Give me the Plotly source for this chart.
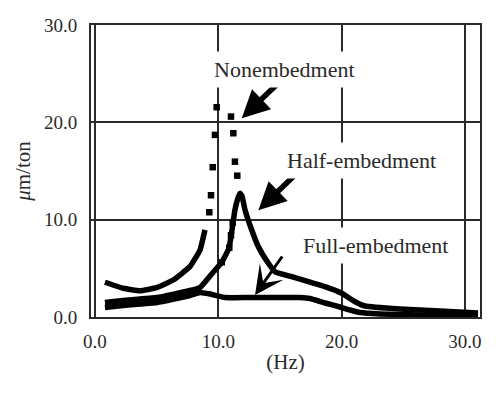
import plotly.graph_objects as go

# ---- data ----
# Nonembedment: continuous left branch + square-dot peak region
non_line_x = [0.81, 2.30, 3.65, 5.00, 6.35, 7.70, 8.52, 8.92]
non_line_y = [3.57, 2.95, 2.70, 3.01, 3.80, 5.17, 6.89, 8.94]
non_dots_x = [9.87, 11.03, 9.73, 11.22, 9.55, 11.35, 11.54, 9.41, 9.27, 11.17, 11.03, 10.89, 10.28]
non_dots_y = [21.55, 20.59, 18.71, 18.88, 15.39, 15.96, 14.52, 12.51, 10.76, 9.69, 8.40, 7.12, 5.62]

# Half-embedment
half_x = [0.81, 2.27, 5.03, 7.70, 8.52, 9.33, 10.28, 10.87, 11.11, 11.35, 11.60, 11.76,
          11.92, 12.17, 12.71, 13.25, 14.06, 14.60, 15.95, 17.30, 18.65, 20.01, 21.09,
          21.90, 24.74, 27.98, 31.06]
half_y = [1.49, 1.70, 2.00, 2.72, 3.03, 4.21, 5.62, 7.09, 8.94, 10.99, 12.23, 12.71,
          12.44, 10.99, 8.94, 7.22, 5.52, 4.65, 4.14, 3.63, 3.12, 2.44, 1.57,
          1.13, 0.82, 0.62, 0.41]

# Full-embedment
full_x = [0.81, 2.27, 5.03, 7.70, 8.52, 9.33, 10.54, 12.57, 14.60, 16.63, 17.44, 18.65,
          19.87, 20.68, 21.49, 23.11, 26.36, 31.06]
full_y = [0.98, 1.18, 1.49, 2.21, 2.52, 2.36, 2.00, 2.00, 2.00, 2.00, 1.90, 1.44,
          1.03, 0.72, 0.46, 0.31, 0.21, 0.10]

tick_vals = [0, 10, 20, 30]
tick_text = ["0.0", "10.0", "20.0", "30.0"]

# label text, label position, arrow tip, arrow tail
labels = ["Nonembedment", "Half-embedment", "Full-embedment"]
label_x = [15.33, 21.61, 22.75]
label_y = [25.45, 16.05, 7.35]
tip_x = [11.90, 13.25, 12.98]
tip_y = [20.42, 10.97, 2.26]
tail_x = [15.14, 16.36, 15.27]
tail_y = [24.36, 14.77, 6.37]

FONT = "Liberation Serif"
INK = "#2a2a2a"

fig = go.Figure()
line_style = dict(color="black", width=5.5, shape="spline", smoothing=0.35)
fig.add_trace(go.Scatter(x=non_line_x, y=non_line_y, mode="lines", line=line_style, name="Nonembedment"))
fig.add_trace(go.Scatter(x=non_dots_x, y=non_dots_y, mode="markers",
                         marker=dict(symbol="square", size=6.5, color="black"), name="Nonembedment"))
fig.add_trace(go.Scatter(x=half_x, y=half_y, mode="lines", line=line_style, name="Half-embedment"))
fig.add_trace(go.Scatter(x=full_x, y=full_y, mode="lines", line=line_style, name="Full-embedment"))

arrow_w = [5.5, 5.5, 3]
arrow_head = [2, 2, 3]
arrow_size = [1.0, 1.0, 1.6]
for i in range(3):
    fig.add_annotation(x=tip_x[i], y=tip_y[i], ax=tail_x[i], ay=tail_y[i],
                       xref="x", yref="y", axref="x", ayref="y", text="",
                       showarrow=True, arrowhead=arrow_head[i], arrowsize=arrow_size[i],
                       arrowwidth=arrow_w[i], arrowcolor="black", standoff=0)
    fig.add_annotation(x=label_x[i], y=label_y[i], xref="x", yref="y", text=labels[i],
                       showarrow=False, bgcolor="white", borderpad=5,
                       font=dict(family=FONT, size=22, color=INK))

axis_common = dict(showline=True, linecolor=INK, linewidth=2, mirror=True,
                   showgrid=True, gridcolor=INK, gridwidth=1.5, zeroline=False,
                   ticks="", tickvals=tick_vals, ticktext=tick_text,
                   tickfont=dict(family=FONT, size=19, color=INK))

# the page body has an 8px margin, so the figure is 8px smaller and margins shifted
fig.update_layout(
    width=492, height=387,
    margin=dict(l=83, r=20, t=17, b=78),
    paper_bgcolor="white", plot_bgcolor="white",
    showlegend=False,
    xaxis=dict(range=[-0.32, 31.22], title=dict(text="(Hz)", font=dict(family=FONT, size=21, color=INK), standoff=4),
               ticklabelstandoff=6, automargin=False, **axis_common),
    yaxis=dict(range=[0, 30], title=dict(text="<i>μ</i>m/ton", font=dict(family=FONT, size=21, color=INK), standoff=8),
               ticklabelstandoff=8, automargin=False, **axis_common),
)

fig.write_html("out.html")
